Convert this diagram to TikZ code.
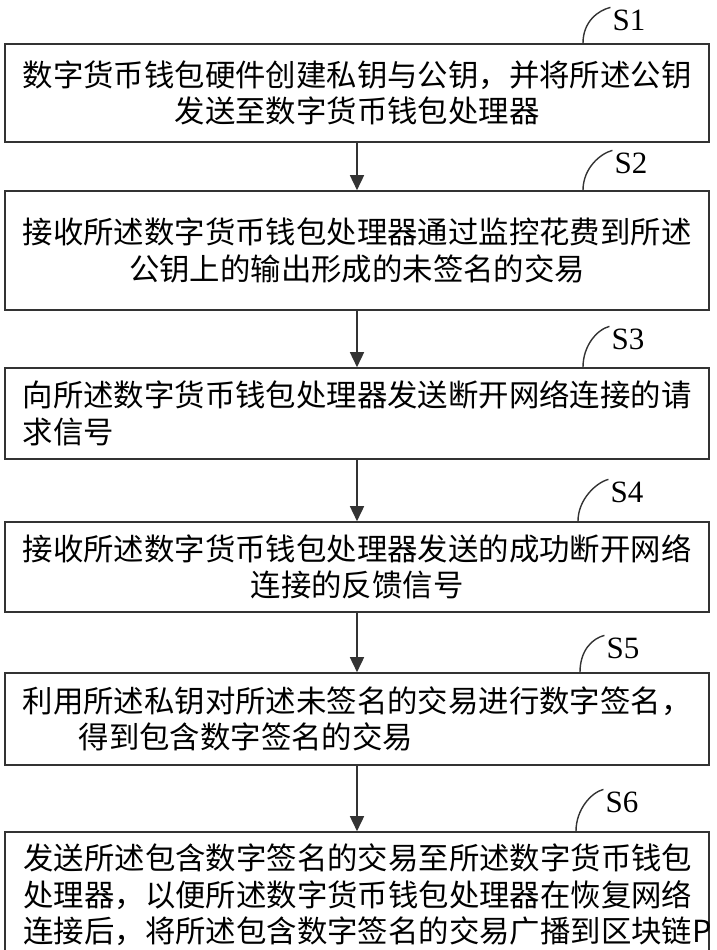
\documentclass[tikz,border=0pt]{standalone}
\usepackage{fontspec}
\setmainfont{Liberation Serif}
\newfontfamily\cjk{Noto Sans CJK SC}
\usetikzlibrary{arrows.meta}

\begin{document}
\begin{tikzpicture}[x=1pt,y=-1pt,
    stepbox/.style={draw=black!80,line width=1.6pt,minimum width=704pt,inner sep=0pt,align=center,
      font=\cjk\fontsize{30.4}{36.5}\selectfont},
    flow/.style={draw=black!80,line width=1.6pt,-{Triangle[length=15pt,width=14pt]}},
    tag/.style={font=\fontsize{31}{31}\selectfont,inner sep=2pt},
    tagline/.style={draw=black!80,line width=1.4pt}]
  \useasboundingbox (0,0) rectangle (716,950);
  % steps
  \node[stepbox,minimum height=98pt] (s1) at (357,93)
    {数字货币钱包硬件创建私钥与公钥，并将所述公钥\\发送至数字货币钱包处理器};
  \node[stepbox,minimum height=119pt] (s2) at (357,250.5)
    {接收所述数字货币钱包处理器通过监控花费到所述\\公钥上的输出形成的未签名的交易};
  \node[stepbox,minimum height=91pt,align=left] (s3) at (357,413.5)
    {向所述数字货币钱包处理器发送断开网络连接的请\\求信号};
  \node[stepbox,minimum height=90pt] (s4) at (357,567)
    {接收所述数字货币钱包处理器发送的成功断开网络\\连接的反馈信号};
  \node[stepbox,minimum height=92pt,align=left] (s5) at (357,719)
    {利用所述私钥对所述未签名的交易进行数字签名，\\\hspace*{56pt}得到包含数字签名的交易};
  \node[stepbox,minimum height=126pt,text width=667pt,align=left] (s6) at (357,895)
    {发送所述包含数字签名的交易至所述数字货币钱包\\处理器，以便所述数字货币钱包处理器在恢复网络\\连接后，将所述包含数字签名的交易广播到区块链P};
  % arrows
  \draw[flow] (s1) -- (s2);
  \draw[flow] (s2) -- (s3);
  \draw[flow] (s3) -- (s4);
  \draw[flow] (s4) -- (s5);
  \draw[flow] (s5) -- (s6);
  % step tags
  \node[tag] (t1) at (629,20) {S1};
  \node[tag] (t2) at (631,163) {S2};
  \node[tag] (t3) at (628,339) {S3};
  \node[tag] (t4) at (627,492) {S4};
  \node[tag] (t5) at (623,648) {S5};
  \node[tag] (t6) at (622,802) {S6};
  \draw[tagline] ([xshift=226pt]s1.north) .. controls +(0,-22) and +(-12,3) .. (t1.north west);
  \draw[tagline] ([xshift=226pt]s2.north) .. controls +(0,-22) and +(-12,3) .. (t2.north west);
  \draw[tagline] ([xshift=226pt]s3.north) .. controls +(0,-22) and +(-12,3) .. (t3.north west);
  \draw[tagline] ([xshift=221pt]s4.north) .. controls +(0,-22) and +(-12,3) .. (t4.north west);
  \draw[tagline] ([xshift=223pt]s5.north) .. controls +(0,-22) and +(-12,3) .. (t5.north west);
  \draw[tagline] ([xshift=219pt]s6.north) .. controls +(0,-22) and +(-12,3) .. (t6.north west);
\end{tikzpicture}
\end{document}
